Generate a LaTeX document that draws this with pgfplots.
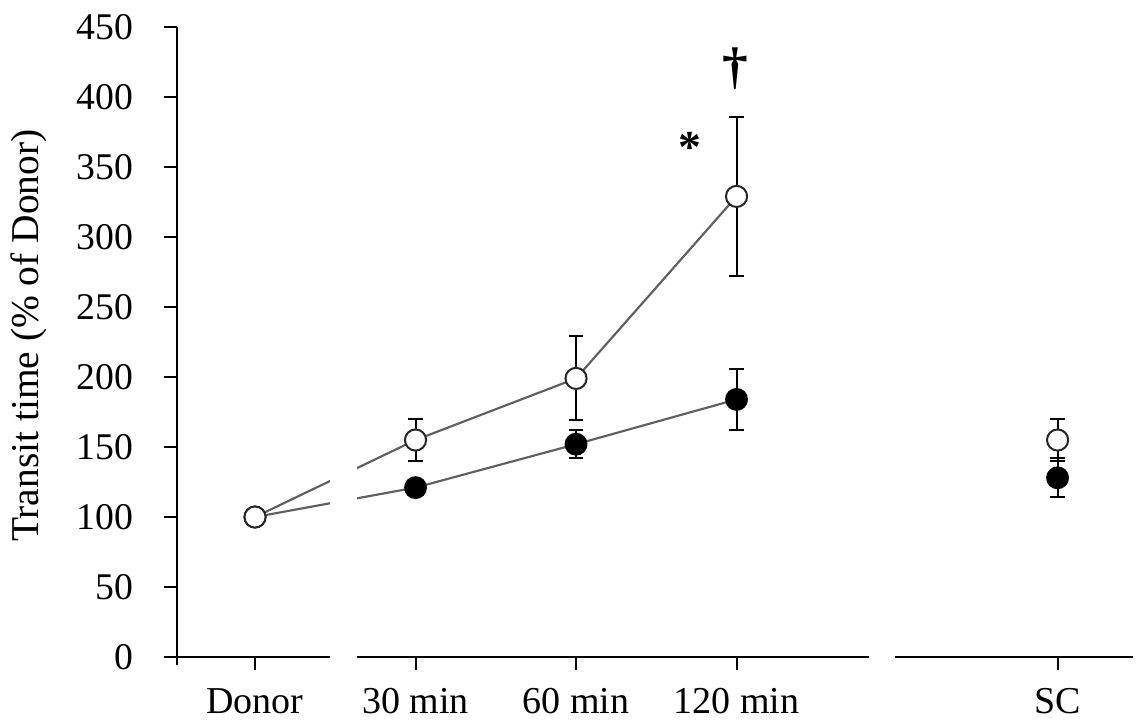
\documentclass[border=0pt]{standalone}
\usepackage{fontspec}
\setmainfont{Liberation Serif}
\usepackage{pgfplots}
\usepackage{pgfplotstable}
\pgfplotsset{compat=1.18}

\pgfplotstableread{
x y e
0 100 0
1 155 15
2 199 30
3 329 57
5 155 15
}\opendata

\pgfplotstableread{
x y e
0 100 0
1 121 5
2 152 10
3 184 22
5 128 14
}\filleddata

\definecolor{linegray}{RGB}{95,95,95}

\begin{document}
\begin{tikzpicture}
\useasboundingbox (-61.95pt,-22.75pt) rectangle (336pt,229.95pt);
\begin{axis}[
  at={(0,0)}, anchor=south west,
  scale only axis,
  width=334.6pt, height=220.5pt,
  xmin=-0.486, xmax=5.47,
  ymin=0, ymax=450,
  clip=false,
  axis y line*=left,
  axis x line*=bottom,
  axis line style={-, line width=0.7pt, black},
  x axis line style={draw=none},
  ytick={0,50,...,450},
  xtick={0,1,2,3,5},
  xticklabels={Donor, 30 min, 60 min, 120 min, SC},
  xtick pos=bottom, ytick pos=left,
  tick align=outside,
  major tick length=4.4pt,
  xtick style={draw=black, line width=0.7pt},
  ytick style={draw=black, line width=0.7pt},
  /pgf/number format/assume math mode=true,
  yticklabel style={font=\fontsize{13.2}{15}\selectfont, xshift=-7.3pt},
  xticklabel style={font=\fontsize{13.3}{15}\selectfont, yshift=-3pt},
  every axis y label/.style={at={(axis description cs:-0.155,0.51)}, rotate=90, anchor=center, font=\fontsize{13.8}{16}\selectfont},
  ylabel={Transit time (\% of Donor)},
]
% connecting lines
\addplot[linegray, line width=0.75pt, mark=none, restrict x to domain=0:3] table[x=x,y=y] {\opendata};
\addplot[linegray, line width=0.75pt, mark=none, restrict x to domain=0:3] table[x=x,y=y] {\filleddata};
% gap in the lines and axis
\fill[white] (axis cs:0.47,5) rectangle (axis cs:0.634,300);
% broken x axis
\draw[line width=0.7pt, black] (axis cs:-0.486,0) -- (axis cs:0.47,0);
\draw[line width=0.7pt, black] (axis cs:0.634,0) -- (axis cs:3.826,0);
\draw[line width=0.7pt, black] (axis cs:3.99,0) -- (axis cs:5.47,0);
\draw[line width=0.7pt, black] (axis cs:-0.486,0) -- ([yshift=-2.8pt]axis cs:-0.486,0);
% y ticks (outward)
\pgfplotsinvokeforeach{0,50,100,150,200,250,300,350,400,450}{
  \draw[line width=0.7pt, black] (axis cs:-0.486,#1) -- ([xshift=-4.6pt]axis cs:-0.486,#1);
}
% error bars
\addplot[draw=none, mark=none, forget plot,
  error bars/.cd, y dir=both, y explicit,
  error bar style={draw=black, line width=0.7pt},
  error mark options={draw=black, line width=0.7pt, mark size=2.5pt, rotate=90}]
  table[x=x,y=y,y error=e] {\filleddata};
\addplot[draw=none, mark=none, forget plot,
  error bars/.cd, y dir=both, y explicit,
  error bar style={draw=black, line width=0.7pt},
  error mark options={draw=black, line width=0.7pt, mark size=2.5pt, rotate=90}]
  table[x=x,y=y,y error=e] {\opendata};
% markers
\addplot[only marks, mark=*, mark size=3.7pt, mark options={fill=black, draw=black, line width=0.6pt}] table[x=x,y=y] {\filleddata};
\addplot[only marks, mark=*, mark size=3.7pt, mark options={fill=white, draw=black!85, line width=0.7pt}] table[x=x,y=y] {\opendata};
% significance marks
\node[font=\fontsize{16}{18}\selectfont\bfseries] at (axis cs:2.71,364) {*};
\node[font=\fontsize{18}{20}\selectfont\bfseries] at (axis cs:2.99,420) {\textdagger};
\end{axis}
\end{tikzpicture}
\end{document}
